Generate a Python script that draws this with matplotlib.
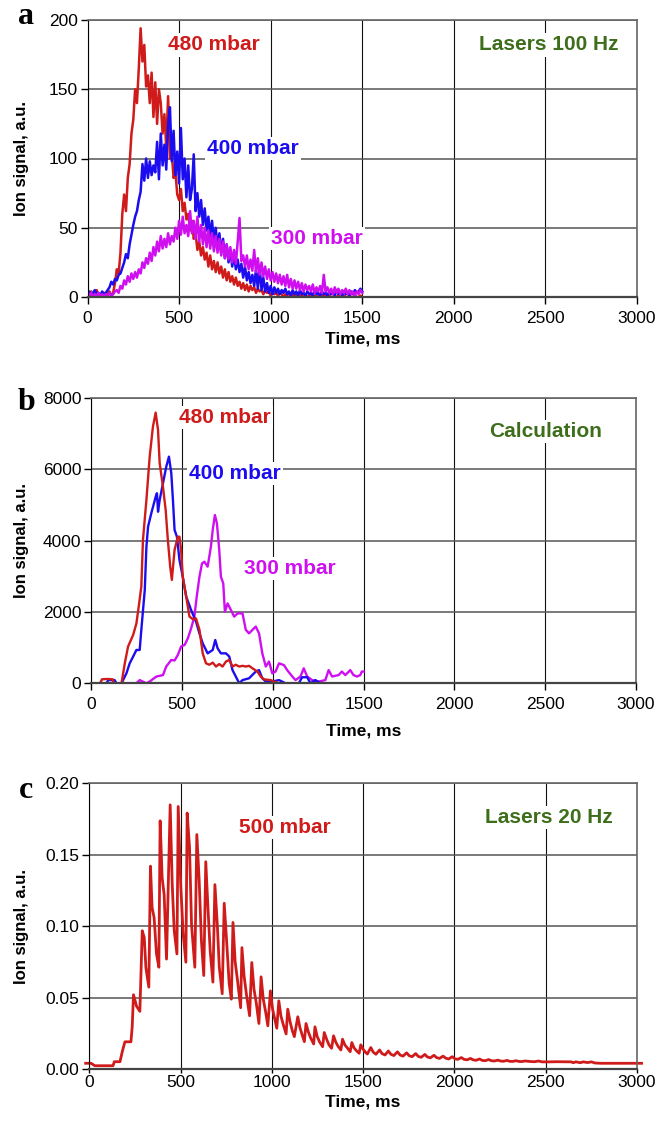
import numpy as np
import matplotlib
matplotlib.use("Agg")
import matplotlib.pyplot as plt
from matplotlib.ticker import FormatStrFormatter

plt.rcParams['font.family'] = ['Liberation Sans', 'DejaVu Sans']

RED = '#d01b1b'
BLUE = '#1c0cf0'
MAGENTA = '#cf0ff0'
GREEN = '#3e6e1c'

# ---- panel a: measured ion signal, lasers 100 Hz (one shot every 10 ms) ----
t_meas = np.arange(0, 1501, 10)
sig_480 = [3, 1, 4, 0, 2, 5, 1, 2, 0, 3,
           1, 2, 4, 1, 3, 10, 20, 17, 32, 60,
           74, 62, 86, 96, 118, 128, 150, 140, 165, 194,
           170, 182, 152, 160, 140, 162, 130, 155, 125, 150,
           140, 118, 132, 108, 145, 100, 104, 86, 90, 74,
           70, 78, 62, 68, 56, 60, 48, 55, 42, 46,
           34, 40, 30, 36, 27, 32, 22, 30, 20, 26,
           18, 25, 17, 22, 14, 20, 12, 18, 11, 15,
           9, 14, 8, 11, 6, 10, 5, 9, 4, 8,
           5, 7, 3, 6, 4, 5, 2, 5, 3, 4,
           1, 4, 2, 3, 1, 3, 2, 0, 2, 1,
           3, 0, 2, 1, 2, 0, 1, 2, 0, 1,
           0, 1, 2, 0, 1, 0, 1, 0, 2, 0,
           1, 0, 1, 0, 0, 1, 0, 1, 0, 0,
           1, 0, 0, 1, 0, 0, 1, 0, 0, 1,
           0]
sig_400 = [2, 4, 1, 3, 5, 2, 3, 1, 4, 2,
           3, 5, 7, 11, 9, 13, 12, 16, 17, 21,
           25, 31, 28, 38, 45, 52, 58, 62, 70, 76,
           96, 84, 100, 86, 98, 88, 95, 90, 112, 85,
           118, 95, 110, 92, 125, 137, 98, 120, 88, 105,
           82, 122, 85, 100, 72, 95, 70, 78, 103, 62,
           75, 58, 70, 52, 64, 48, 58, 44, 55, 40,
           50, 36, 46, 32, 42, 28, 38, 25, 34, 22,
           30, 20, 27, 18, 24, 14, 22, 12, 18, 10,
           16, 8, 20, 6, 22, 5, 14, 4, 10, 3,
           8, 2, 7, 3, 6, 2, 5, 3, 6, 2,
           4, 1, 5, 2, 4, 1, 5, 2, 3, 1,
           4, 2, 3, 1, 5, 2, 3, 1, 4, 2,
           3, 1, 4, 2, 3, 1, 5, 2, 3, 1,
           4, 2, 3, 1, 4, 2, 5, 3, 4, 6,
           4]
sig_300 = [4, 1, 3, 0, 2, 1, 3, 0, 2, 1,
           2, 0, 3, 1, 2, 4, 5, 3, 8, 6,
           12, 9, 15, 11, 17, 13, 18, 14, 20, 17,
           25, 21, 28, 24, 32, 26, 36, 30, 40, 33,
           44, 35, 42, 36, 46, 38, 44, 40, 50, 42,
           55, 45, 58, 46, 52, 44, 62, 46, 55, 42,
           58, 40, 52, 38, 50, 36, 48, 35, 46, 33,
           44, 32, 42, 30, 40, 28, 38, 27, 36, 25,
           34, 24, 40, 57, 26, 30, 22, 30, 20, 27,
           19, 34, 18, 28, 16, 25, 15, 22, 13, 20,
           12, 18, 11, 17, 10, 16, 9, 15, 8, 16,
           7, 13, 6, 12, 6, 11, 5, 10, 4, 9,
           5, 8, 4, 9, 3, 7, 4, 8, 3, 16,
           4, 7, 3, 6, 2, 7, 3, 6, 2, 5,
           3, 6, 2, 5, 2, 4, 1, 4, 2, 5,
           3]

# ---- panel b: calculation ----
calc_t_480 = [0, 50, 60, 80, 100, 120, 125, 168, 186, 204,
              232, 250, 265, 277, 286, 305, 323, 341, 356, 369,
              378, 396, 411, 423, 436, 445, 460, 478, 487, 496,
              505, 524, 542, 560, 578, 597, 615, 633, 651, 670,
              688, 706, 724, 743, 761, 779, 797, 816, 834, 852,
              870, 889, 916, 934, 953, 989, 1007, 1035, 1500]
calc_v_480 = [0, 0, 110, 120, 120, 110, 0, 0, 560, 1030,
              1355, 1680, 2240, 2710, 4020, 5140, 6355, 7200, 7590, 7100,
              6170, 5515, 4860, 4020, 3270, 2900, 3740, 4110, 4110, 3740,
              2990, 2430, 1870, 1800, 1820, 1500, 840, 560, 520, 580,
              470, 540, 470, 610, 655, 470, 520, 470, 490, 470,
              490, 420, 330, 190, 110, 90, 50, 0, 0]
calc_t_400 = [0, 85, 95, 130, 140, 168, 195, 213, 232, 250,
              268, 277, 296, 305, 314, 332, 356, 363, 369, 378,
              396, 414, 429, 442, 451, 460, 473, 487, 505, 524,
              551, 578, 597, 615, 642, 670, 684, 697, 715, 743,
              761, 779, 797, 816, 834, 870, 907, 925, 943, 962,
              998, 1035, 1071, 1144, 1162, 1190, 1208, 1235, 1263, 1500]
calc_v_400 = [0, 0, 90, 90, 0, 0, 280, 560, 750, 935,
              935, 1500, 2620, 3830, 4390, 4770, 5230, 5330, 4810, 5140,
              5600, 6070, 6355, 5890, 5140, 4300, 4110, 3460, 2990, 2430,
              2056, 1730, 1400, 1120, 840, 935, 1215, 980, 840, 840,
              750, 370, 190, 0, 90, 140, 330, 370, 140, 50,
              50, 90, 0, 0, 170, 170, 0, 90, 0, 0]
calc_t_300 = [0, 250, 268, 305, 323, 360, 396, 414, 442, 460,
              478, 496, 515, 533, 551, 569, 582, 597, 611, 624,
              642, 660, 670, 682, 693, 706, 715, 728, 737, 752,
              770, 788, 807, 834, 852, 870, 889, 907, 925, 943,
              962, 980, 998, 1016, 1035, 1062, 1080, 1108, 1126, 1153,
              1171, 1190, 1217, 1254, 1290, 1308, 1327, 1363, 1381, 1400,
              1427, 1445, 1464, 1482, 1491, 1500]
calc_v_300 = [0, 0, 90, 0, 50, 190, 230, 470, 655, 640,
              795, 1030, 1075, 1260, 1540, 1870, 2430, 2990, 3360, 3410,
              3270, 3830, 4300, 4720, 4490, 3740, 2990, 2800, 2010, 2240,
              2056, 1870, 1960, 1960, 1500, 1400, 1500, 1590, 1400, 840,
              470, 610, 280, 330, 560, 510, 370, 190, 90, 190,
              420, 190, 90, 50, 90, 370, 190, 230, 330, 230,
              370, 230, 190, 230, 330, 330]

# ---- panel c: lasers 20 Hz, 500 mbar ----
t_20hz = [-20, 10, 30, 130, 137, 168, 180, 195, 228, 235,
          242, 259, 277, 283, 290, 301, 310, 326, 335, 344,
          355, 368, 381, 388, 399, 410, 423, 432, 443, 454,
          465, 480, 487, 501, 514, 529, 536, 549, 560, 578,
          589, 602, 614, 627, 638, 651, 662, 677, 688, 702,
          712, 728, 739, 752, 766, 778, 787, 799, 812, 829,
          836, 848, 861, 878, 890, 902, 915, 929, 941, 953,
          966, 978, 992, 1004, 1016, 1027, 1038, 1050, 1063, 1078,
          1087, 1100, 1112, 1123, 1142, 1154, 1166, 1178, 1187, 1200,
          1212, 1229, 1236, 1248, 1262, 1278, 1287, 1300, 1313, 1327,
          1338, 1350, 1363, 1378, 1387, 1400, 1413, 1429, 1438, 1450,
          1463, 1478, 1487, 1500, 1512, 1523, 1542, 1555, 1570, 1590,
          1603, 1620, 1638, 1652, 1668, 1688, 1702, 1718, 1738, 1752,
          1768, 1788, 1802, 1818, 1838, 1852, 1868, 1888, 1902, 1918,
          1938, 1952, 1968, 1988, 2002, 2018, 2038, 2052, 2068, 2088,
          2102, 2118, 2138, 2152, 2168, 2188, 2202, 2218, 2238, 2252,
          2268, 2288, 2302, 2318, 2338, 2352, 2368, 2388, 2420, 2440,
          2460, 2480, 2520, 2560, 2640, 2650, 2665, 2690, 2705, 2730,
          2750, 2770, 2800, 2900, 3025]
sig_20hz = [.0042, .0042, .0025, .0025, .0053, .0053, .0120, .0192, .0192, .0296,
            .0521, .0440, .0405, .0667, .0968, .0920, .0710, .0574, .1419, .1130,
            .1060, .0806, .0713, .1736, .1338, .1220, .0770, .1260, .1847, .1300,
            .0970, .0806, .1836, .1280, .0950, .0748, .1790, .1550, .1010, .0713,
            .1640, .1315, .0900, .0655, .1450, .1100, .0830, .0609, .1290, .0990,
            .0713, .0528, .1160, .0900, .0600, .0490, .1026, .0750, .0620, .0430,
            .0850, .0650, .0520, .0374, .0746, .0560, .0460, .0320, .0646, .0490,
            .0400, .0304, .0548, .0420, .0350, .0287, .0478, .0370, .0310, .0247,
            .0420, .0330, .0270, .0228, .0367, .0290, .0240, .0193, .0320, .0260,
            .0220, .0177, .0297, .0230, .0190, .0158, .0257, .0210, .0170, .0147,
            .0234, .0190, .0160, .0135, .0210, .0170, .0150, .0123, .0187, .0150,
            .0130, .0112, .0171, .0140, .0120, .0107, .0152, .0120, .0105, .0135,
            .0110, .0100, .0128, .0105, .0096, .0122, .0100, .0092, .0115, .0095,
            .0088, .0110, .0090, .0084, .0104, .0086, .0080, .0098, .0082, .0076,
            .0092, .0078, .0072, .0088, .0074, .0069, .0082, .0070, .0066, .0076,
            .0066, .0063, .0072, .0062, .0060, .0068, .0060, .0058, .0064, .0058,
            .0056, .0062, .0056, .0055, .0060, .0055, .0054, .0058, .0054, .0053,
            .0058, .0052, .0052, .0053, .0052, .0046, .0052, .0046, .0052, .0047,
            .0052, .0044, .0042, .0042, .0042]

fig = plt.figure(figsize=(6.72, 11.28), dpi=100)
W, H = 672, 1128


def make_axes(left, top, right, bottom):
    return fig.add_axes([left / W, 1 - bottom / H, (right - left) / W, (bottom - top) / H])


def style(ax, left, right, top, bottom, xlab_y, tick_pad, tick_len=5):
    ax.set_xlim(0, 3000)
    ax.set_xticks(range(0, 3001, 500))
    ax.grid(True, axis='y', color='#555555', lw=1.1)
    ax.grid(True, axis='x', color='#111111', lw=0.8)
    ax.set_axisbelow(True)
    for s in ('top', 'right'):
        ax.spines[s].set_color('#666666')
        ax.spines[s].set_linewidth(1.2)
    ax.spines['left'].set_color('black')
    ax.spines['bottom'].set_color('#444444')
    ax.spines['bottom'].set_linewidth(1.6)
    ax.tick_params(axis='both', direction='out', length=5, width=1, labelsize=12.5)
    ax.tick_params(axis='x', pad=tick_pad, length=tick_len)
    ax.tick_params(axis='y', pad=2)
    ax.set_xlabel('Time, ms', fontsize=12.5, fontweight='bold', va='center')
    ax.set_ylabel('Ion signal, a.u.', fontsize=12, fontweight='bold', va='center')
    ax.xaxis.set_label_coords(0.5, (bottom - xlab_y) / (bottom - top))
    ax.yaxis.set_label_coords((22 - left) / (right - left), 0.5)


box = dict(facecolor='white', edgecolor='none', pad=1.5)
lab = dict(fontsize=15, fontweight='bold', ha='center', va='center', bbox=box)

# panel a
ax1 = make_axes(87.5, 20, 637, 297)
ax1.plot(t_meas, sig_480, color=RED, lw=1.8)
ax1.plot(t_meas, sig_400, color=BLUE, lw=1.8)
ax1.plot(t_meas, sig_300, color=MAGENTA, lw=1.8)
ax1.set_ylim(0, 200)
ax1.set_yticks(range(0, 201, 50))
style(ax1, 87.5, 637, 20, 297, 339, 5)
ax1.text(690, 182, '480 mbar', color=RED, **lab)
ax1.text(905, 107, '400 mbar', color=BLUE, **lab)
ax1.text(1255, 42, '300 mbar', color=MAGENTA, **lab)
ax1.text(2520, 182, 'Lasers 100 Hz', color=GREEN, **lab)

# panel b
ax2 = make_axes(91, 398, 636, 683.3)
ax2.plot(calc_t_300, calc_v_300, color=MAGENTA, lw=1.7)
ax2.plot(calc_t_400, calc_v_400, color=BLUE, lw=1.7)
ax2.plot(calc_t_480, calc_v_480, color=RED, lw=1.7)
ax2.set_ylim(0, 8000)
ax2.set_yticks(range(0, 8001, 2000))
style(ax2, 91, 636, 398, 683.3, 731, 5)
ax2.text(738, 7446, '480 mbar', color=RED, **lab)
ax2.text(793, 5874, '400 mbar', color=BLUE, **lab)
ax2.text(1096, 3208, '300 mbar', color=MAGENTA, **lab)
ax2.text(2500, 7054, 'Calculation', color=GREEN, **lab)

# panel c
ax3 = make_axes(89.3, 783, 637, 1069.3)
ax3.plot(t_20hz, sig_20hz, color=RED, lw=2.0, clip_on=False)
ax3.set_ylim(0, 0.2)
ax3.set_yticks([0, 0.05, 0.10, 0.15, 0.20])
ax3.yaxis.set_major_formatter(FormatStrFormatter('%.2f'))
style(ax3, 89.3, 637, 783, 1069.3, 1102, 1, tick_len=3)
ax3.text(1070, 0.1687, '500 mbar', color=RED, **lab)
ax3.text(2517, 0.1757, 'Lasers 20 Hz', color=GREEN, **lab)

# panel letters
for letter, y in (('a', 17), ('b', 403), ('c', 790)):
    fig.text(26 / W, 1 - y / H, letter, fontsize=23, fontweight='bold',
             family='Liberation Serif', ha='center', va='center')

fig.savefig('out.png', dpi=100)
